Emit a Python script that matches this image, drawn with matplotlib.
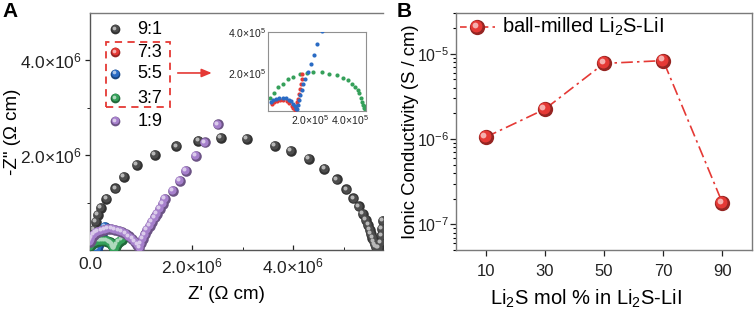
import matplotlib
matplotlib.use("Agg")
import matplotlib.pyplot as plt
import matplotlib.ticker as mticker
from matplotlib.transforms import offset_copy
from matplotlib.patches import Rectangle
import numpy as np

plt.rcParams['font.family'] = ['Liberation Sans', 'DejaVu Sans']
plt.rcParams['mathtext.fontset'] = 'custom'
plt.rcParams['mathtext.rm'] = 'Liberation Sans'
plt.rcParams['mathtext.it'] = 'Liberation Sans:italic'
plt.rcParams['mathtext.bf'] = 'Liberation Sans:bold'

# ---- panel A data: Nyquist points (units of 1e6 ohm cm) ----
r91_x = [0.02, 0.04, 0.07, 0.11, 0.15, 0.21, 0.32, 0.50, 0.67, 0.92, 1.27, 1.70, 2.13, 2.57, 3.08,
         3.64, 3.95, 4.30, 4.61, 4.85, 5.04, 5.18, 5.29, 5.37, 5.43, 5.47, 5.50, 5.52, 5.55, 5.58,
         5.60, 5.62, 5.65, 5.68, 5.72, 5.73, 5.74, 5.76]
r91_y = [0.12, 0.25, 0.42, 0.60, 0.74, 0.89, 1.08, 1.30, 1.54, 1.79, 2.01, 2.19, 2.30, 2.37, 2.35,
         2.20, 2.09, 1.93, 1.71, 1.49, 1.28, 1.09, 0.92, 0.77, 0.64, 0.53, 0.42, 0.34, 0.25, 0.18,
         0.12, 0.07, 0.04, 0.05, 0.16, 0.30, 0.44, 0.62]

r19_x = [0.00, 0.02, 0.04, 0.07, 0.11, 0.16, 0.22, 0.28, 0.35, 0.42, 0.49, 0.56, 0.63, 0.70, 0.77,
         0.83, 0.88, 0.93, 0.97, 1.00, 1.04, 1.08, 1.12, 1.17, 1.22, 1.27, 1.32, 1.37, 1.43, 1.47,
         1.63, 1.77, 1.89, 2.08, 2.26, 2.51]
r19_y = [0.17, 0.22, 0.27, 0.32, 0.36, 0.39, 0.41, 0.43, 0.44, 0.44, 0.43, 0.41, 0.38, 0.34, 0.29,
         0.23, 0.17, 0.11, 0.05, 0.14, 0.24, 0.33, 0.42, 0.51, 0.60, 0.69, 0.77, 0.87, 0.97, 1.08,
         1.25, 1.46, 1.67, 1.98, 2.27, 2.65]

# units of 1e5 ohm cm
r73_x = [0.08, 0.20, 0.33, 0.50, 0.67, 0.83, 0.97, 1.08, 1.17, 1.25, 1.30, 1.35, 1.40, 1.45, 1.50,
         1.55, 1.58, 1.62]
r73_y = [0.46, 0.57, 0.63, 0.67, 0.65, 0.60, 0.50, 0.37, 0.26, 0.18, 0.34, 0.54, 0.73, 0.94, 1.19,
         1.43, 1.67, 1.92]

r55_x = [0.05, 0.17, 0.30, 0.47, 0.63, 0.80, 0.93, 1.07, 1.17, 1.25, 1.32, 1.35, 1.38, 1.43, 1.50,
         1.58, 1.67, 1.77, 1.88, 2.03, 2.20, 2.37, 2.58, 2.85]
r55_y = [0.54, 0.65, 0.73, 0.78, 0.78, 0.75, 0.68, 0.59, 0.47, 0.34, 0.21, 0.21, 0.41, 0.65, 0.89,
         1.15, 1.43, 1.71, 2.03, 2.41, 2.86, 3.41, 4.03, 4.90]

r37_x = [0.00, 0.20, 0.42, 0.63, 0.92, 1.17, 1.50, 1.83, 2.17, 2.58, 2.97, 3.33, 3.63, 3.88, 4.08,
         4.25, 4.38, 4.47, 4.55, 4.62, 4.67, 4.72, 4.77, 4.82, 4.90, 5.05, 5.30, 5.70, 6.20, 6.80]
r37_y = [0.78, 1.02, 1.28, 1.46, 1.67, 1.79, 1.92, 2.00, 2.05, 2.03, 1.95, 1.87, 1.76, 1.63, 1.46,
         1.30, 1.15, 0.99, 0.78, 0.57, 0.41, 0.29, 0.24, 0.37, 0.55, 0.80, 1.20, 1.70, 2.20, 2.70]

ratio_labels = ["9:1", "7:3", "5:5", "3:7", "1:9"]
ratio_colors = ["#4d4d4d", "#e53935", "#2a6bc4", "#35a05a", "#a680cc"]

# ---- panel B data ----
li2s_mol = [10, 30, 50, 70, 90]
conductivity = [1.05e-6, 2.24e-6, 7.7e-6, 8.3e-6, 1.78e-7]


def mix(c, other, t):
    c = np.array(matplotlib.colors.to_rgb(c))
    o = np.array(matplotlib.colors.to_rgb(other))
    return tuple(c * (1 - t) + o * t)


def sphere(ax, x, y, color, ms, tr=None, z=2):
    # fake glossy ball: dark rim, body, highlight
    fig = ax.figure
    if tr is None:
        tr = ax.transData
    ax.plot(x, y, 'o', ms=ms, color=mix(color, 'black', 0.35), mec='none',
            transform=tr, zorder=z, clip_on=True)
    ax.plot(x, y, 'o', ms=ms * 0.78, color=color, mec='none', zorder=z + 0.1,
            transform=offset_copy(tr, fig=fig, x=-ms * 0.07, y=ms * 0.07, units='points'))
    ax.plot(x, y, 'o', ms=ms * 0.38, color=mix(color, 'white', 0.6), mec='none', zorder=z + 0.2,
            transform=offset_copy(tr, fig=fig, x=-ms * 0.16, y=ms * 0.16, units='points'))


fig = plt.figure(figsize=(7.54, 3.10), dpi=100)
spine_c = "#7a7a7a"

# ================= panel A =================
axA = fig.add_axes([0.1194, 0.1935, 0.3885, 0.7645])
e6 = 1e6
e5 = 1e5
ms_a = 7.6
sphere(axA, np.array(r91_x) * e6, np.array(r91_y) * e6, ratio_colors[0], ms_a, z=2)
sphere(axA, np.array(r73_x) * e5, np.array(r73_y) * e5, ratio_colors[1], ms_a, z=3)
sphere(axA, np.array(r55_x) * e5, np.array(r55_y) * e5, ratio_colors[2], ms_a, z=4)
sphere(axA, np.array(r37_x) * e5, np.array(r37_y) * e5, ratio_colors[3], ms_a, z=5)
sphere(axA, np.array(r19_x) * e6, np.array(r19_y) * e6, ratio_colors[4], ms_a, z=6)

axA.set_xlim(0, 5.76e6)
axA.set_ylim(0, 5.0e6)
axA.xaxis.set_major_locator(mticker.FixedLocator([0, 2e6, 4e6]))
axA.xaxis.set_major_formatter(mticker.FixedFormatter(["0.0", r"2.0×10$^6$", r"4.0×10$^6$"]))
axA.xaxis.set_minor_locator(mticker.FixedLocator([1e6, 3e6, 5e6]))
axA.yaxis.set_major_locator(mticker.FixedLocator([2e6, 4e6]))
axA.yaxis.set_major_formatter(mticker.FixedFormatter([r"2.0×10$^6$", r"4.0×10$^6$"]))
axA.yaxis.set_minor_locator(mticker.FixedLocator([1e6, 3e6]))
axA.tick_params(axis='both', labelsize=12.5, colors='#222222', width=0.9)
axA.tick_params(axis='x', direction='in', length=3.5, pad=5)
axA.tick_params(axis='x', which='minor', direction='in', length=2)
axA.tick_params(axis='y', direction='out', length=3.5, pad=2)
axA.tick_params(axis='y', which='minor', direction='out', length=2)
for s in ['left', 'bottom', 'top']:
    axA.spines[s].set_color(spine_c)
    axA.spines[s].set_linewidth(1.0)
axA.spines['left'].set_color('#555555')
axA.spines['bottom'].set_color('#555555')
axA.spines['right'].set_visible(False)
axA.set_xlabel("Z' (Ω cm)", fontsize=13.5)
axA.xaxis.set_label_coords(0.464, -0.15)
axA.set_ylabel('-Z" (Ω cm)', fontsize=13.5)
axA.yaxis.set_label_coords(-0.235, 0.5)

# legend drawn inside axes coordinates
leg_y = [0.932, 0.835, 0.743, 0.641, 0.544]
for lab, col, yy in zip(ratio_labels, ratio_colors, leg_y):
    sphere(axA, [0.086], [yy], col, 7.0, tr=axA.transAxes, z=8)
    axA.text(0.162, yy, lab, transform=axA.transAxes, fontsize=13, va='center', ha='left')
axA.add_patch(Rectangle((0.055, 0.603), 0.219, 0.275, transform=axA.transAxes, fill=False,
                        ec='#e53935', lw=1.3, ls=(0, (4, 3)), zorder=9, clip_on=False))
axA.annotate("", xy=(0.425, 0.747), xytext=(0.29, 0.747), xycoords='axes fraction',
             arrowprops=dict(arrowstyle='-|>,head_length=0.6,head_width=0.25', color='#e53935', lw=1.2))
fig.text(0.003, 0.995, "A", fontsize=15, fontweight='bold', va='top', ha='left')

# inset
axI = fig.add_axes([0.3554, 0.642, 0.130, 0.255])
for xs, ys, col, z in [(r73_x, r73_y, ratio_colors[1], 3), (r55_x, r55_y, ratio_colors[2], 4),
                       (r37_x, r37_y, ratio_colors[3], 2)]:
    axI.plot(np.array(xs) * e5, np.array(ys) * e5, 'o', ms=3.0, color=col, mec='none', zorder=z)
axI.set_xlim(-0.1e5, 4.8e5)
axI.set_ylim(0.12e5, 4.0e5)
axI.xaxis.set_major_locator(mticker.FixedLocator([2e5, 4e5]))
axI.xaxis.set_major_formatter(mticker.FixedFormatter([r"2.0×10$^5$", r"4.0×10$^5$"]))
axI.yaxis.set_major_locator(mticker.FixedLocator([2e5, 4e5]))
axI.yaxis.set_major_formatter(mticker.FixedFormatter([r"2.0×10$^5$", r"4.0×10$^5$"]))
axI.tick_params(axis='both', labelsize=7.5, length=0, pad=1.5, colors='#222222')
for s in axI.spines.values():
    s.set_color('#909090')
    s.set_linewidth(0.8)

# ================= panel B =================
axB = fig.add_axes([0.6048, 0.1935, 0.3926, 0.7645])
axB.plot(li2s_mol, conductivity, color='#e53935', lw=1.2, ls=(0, (7, 2.5, 1.5, 2.5)), zorder=2)
sphere(axB, li2s_mol, conductivity, '#e53935', 11, z=3)
axB.set_yscale('log')
axB.set_xlim(0, 100)
axB.set_ylim(5e-8, 3e-5)
axB.xaxis.set_major_locator(mticker.FixedLocator(li2s_mol))
axB.yaxis.set_major_locator(mticker.LogLocator(base=10, numticks=10))
axB.yaxis.set_minor_locator(mticker.LogLocator(base=10, subs=np.arange(2, 10), numticks=10))
axB.yaxis.set_minor_formatter(mticker.NullFormatter())
axB.tick_params(axis='both', labelsize=11.5, direction='out', length=4, width=0.9, colors='#222222')
axB.tick_params(axis='y', which='minor', length=2.2, width=0.8, pad=1)
axB.tick_params(axis='y', pad=1)
axB.tick_params(axis='x', labelsize=12, pad=6)
for s in axB.spines.values():
    s.set_color(spine_c)
    s.set_linewidth(1.0)
axB.set_xlabel(r"Li$_2$S mol % in Li$_2$S-LiI", fontsize=14.5)
axB.xaxis.set_label_coords(0.44, -0.16)
axB.set_ylabel("Ionic Conductivity (S / cm)", fontsize=13.3)
axB.yaxis.set_label_coords(-0.125, 0.5)

axB.plot([0.014, 0.132], [0.941, 0.941], transform=axB.transAxes, color='#e53935', lw=1.2,
         ls=(0, (4, 2.5)), zorder=6)
sphere(axB, [0.071], [0.941], '#e53935', 11, tr=axB.transAxes, z=7)
axB.text(0.155, 0.941, r"ball-milled Li$_2$S-LiI", transform=axB.transAxes, fontsize=14.5,
         va='center', ha='left')
fig.text(0.526, 0.995, "B", fontsize=15, fontweight='bold', va='top', ha='left')

fig.savefig("out.png", dpi=100)
